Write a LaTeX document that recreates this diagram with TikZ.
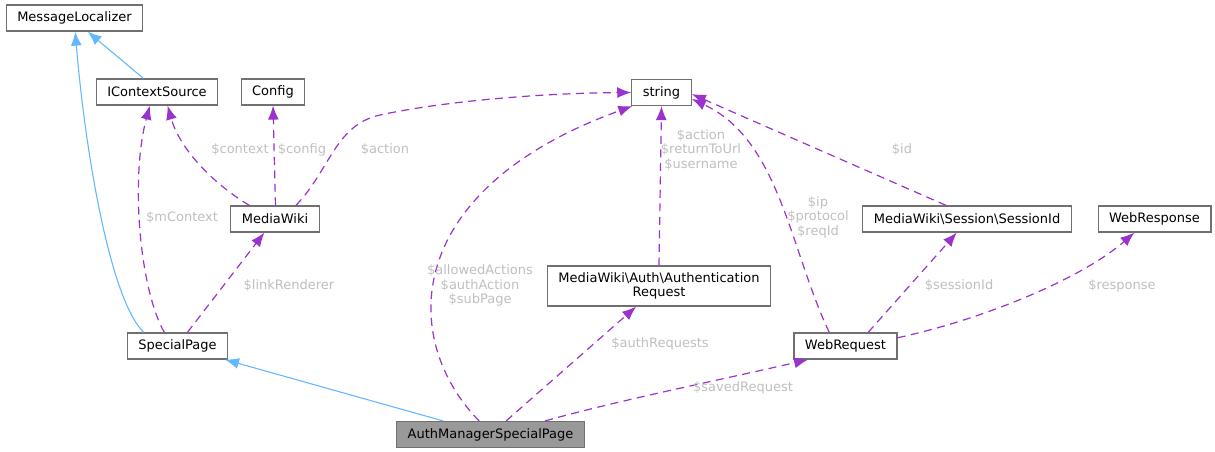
\documentclass[tikz,border=0pt]{standalone}
\usepackage{fontspec}
\setmainfont{DejaVu Sans}
\usepackage{xcolor}
\usepackage{tikz}
\usetikzlibrary{arrows.meta,calc}

\definecolor{inhblue}{HTML}{63B8FF}
\definecolor{usepurple}{HTML}{9A32CD}
\definecolor{lblgray}{HTML}{BFBFBF}
\definecolor{boxgray}{HTML}{707070}
\definecolor{curgray}{HTML}{999999}

\begin{document}
\begin{tikzpicture}[x=1pt, y=-1pt, font=\fontsize{13}{14.5}\selectfont]
    \tikzstyle{cls} = [rectangle, draw=boxgray, line width=1.2pt, fill=white, inner xsep=11pt, inner ysep=2pt, minimum height=26pt, align=center]
    \tikzstyle{inherit} = [draw=inhblue, line width=1.1pt, -{Latex[length=14pt,width=11pt]}]
    \tikzstyle{uses} = [draw=usepurple, line width=1.2pt, dash pattern=on 8pt off 5.5pt, -{Latex[length=14pt,width=11pt]}]
    \tikzstyle{lbl} = [text=lblgray, align=center, inner sep=0pt]

    \useasboundingbox (0,0) rectangle (1215,452);

    % Nodes
    \node [cls] (msgloc) at (74.5,18) {MessageLocalizer};
    \node [cls] (ictx) at (157,92) {IContextSource};
    \node [cls] (config) at (273,92) {Config};
    \node [cls] (string) at (661.5,92.5) {string};
    \node [cls] (mw) at (275,219) {MediaWiki};
    \node [cls] (sessid) at (967,219) {MediaWiki\textbackslash Session\textbackslash SessionId};
    \node [cls] (webresp) at (1154.5,219) {WebResponse};
    \node [cls, minimum height=40pt] (authreq) at (659,286) {MediaWiki\textbackslash Auth\textbackslash Authentication\\Request};
    \node [cls] (special) at (177.5,346) {SpecialPage};
    \node [cls] (webreq) at (845.5,346) {WebRequest};
    \node [cls, fill=curgray] (amsp) at (490.5,434.5) {AuthManagerSpecialPage};

    % Inheritance
    \draw [inherit] (ictx.135) -- (msgloc.-46);
    \draw [inherit] (special.158) .. controls (110,300) and (85,150) .. (msgloc.-87);
    \draw [inherit] (amsp.164) -- (special.-16);

    % Usage
    \draw [uses] (mw.152) .. controls (215,185) and (180,150) .. (ictx.-52);
    \draw [uses] (mw.88) -- (config.south);
    \draw [uses] (mw.33) .. controls (330,170) and (335,125) .. (380,115) .. controls (450,100) and (550,93) .. (string.west);
    \draw [uses] (special.134) .. controls (140,290) and (130,180) .. (ictx.-118);
    \draw [uses] (special.54) -- (mw.-128);
    \draw [uses] (amsp.130) .. controls (400,340) and (400,190) .. (string.-155);
    \draw [uses] (amsp.41) -- (authreq.-138);
    \draw [uses] (amsp.14) .. controls (620,400) and (720,380) .. (webreq.-160);
    \draw [uses] (authreq.north) -- (string.south);
    \draw [uses] (webreq.140) .. controls (790,250) and (780,140) .. (string.-12);
    \draw [uses] (sessid.147) -- (string.-3);
    \draw [uses] (webreq.31) -- (sessid.-127);
    \draw [uses] (webreq.9) .. controls (980,320) and (1080,280) .. (webresp.-146);

    % Edge labels
    \node [lbl] (lcontext) at (240,150) {\$context};
    \node [lbl] (lconfig) at (302,150) {\$config};
    \node [lbl] (laction) at (385,150) {\$action};
    \node [lbl] (lmctx) at (182,218) {\$mContext};
    \node [lbl] (llink) at (289,286) {\$linkRenderer};
    \node [lbl] (lallowed) at (480,285.5) {\$allowedActions\\\$authAction\\\$subPage};
    \node [lbl] (lareq) at (701,150) {\$action\\\$returnToUrl\\\$username};
    \node [lbl] (lip) at (818,217) {\$ip\\\$protocol\\\$reqId};
    \node [lbl] (lid) at (902,150) {\$id};
    \node [lbl] (lsess) at (959,286) {\$sessionId};
    \node [lbl] (lresp) at (1122,286) {\$response};
    \node [lbl] (lauthreqs) at (660,344) {\$authRequests};
    \node [lbl] (lsaved) at (743,388) {\$savedRequest};
\end{tikzpicture}
\end{document}
